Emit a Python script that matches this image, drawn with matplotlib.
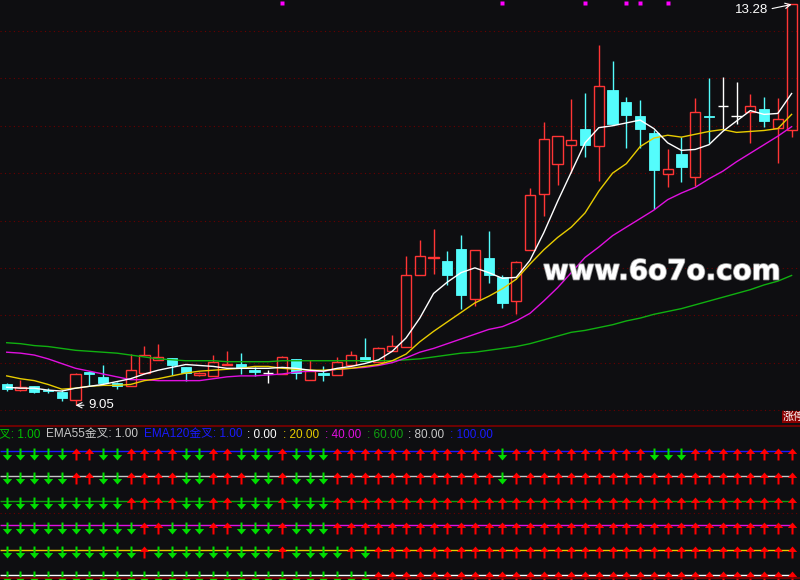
import matplotlib
matplotlib.use("Agg")
import matplotlib.pyplot as plt
from matplotlib.patches import Rectangle
from matplotlib.path import Path
from matplotlib.lines import Line2D
import matplotlib.patheffects as pe

# ---------------- data ----------------
opens = [9.27, 9.21, 9.25, 9.21, 9.19, 9.11, 9.40, 9.35, 9.29, 9.25,
         9.39, 9.53, 9.55, 9.45, 9.37, 9.36, 9.47, 9.49, 9.42, 9.39,
         9.38, 9.54, 9.32, 9.39, 9.37, 9.48, 9.56, 9.51, 9.62, 9.66,
         10.42, 10.60, 10.57, 10.70, 10.17, 10.60, 10.40, 10.15, 10.69, 11.28,
         11.60, 11.80, 11.97, 11.79, 12.38, 12.25, 12.10, 11.92, 11.49, 11.70,
         11.46, 12.10, 12.21, 12.10, 12.15, 12.18, 11.98, 11.96]
highs = [9.28, 9.32, 9.25, 9.23, 9.21, 9.39, 9.41, 9.47, 9.30, 9.59,
         9.68, 9.70, 9.55, 9.45, 9.40, 9.58, 9.62, 9.60, 9.45, 9.42,
         9.57, 9.54, 9.53, 9.46, 9.56, 9.62, 9.76, 9.66, 9.79, 10.63,
         10.79, 10.91, 10.68, 10.85, 10.69, 10.89, 10.42, 10.57, 11.34, 12.04,
         11.89, 12.28, 12.35, 12.85, 12.68, 12.30, 12.27, 11.96, 11.75, 11.88,
         12.29, 12.50, 12.51, 12.46, 12.34, 12.30, 12.29, 13.28]
lows = [9.20, 9.20, 9.18, 9.18, 9.10, 9.05, 9.25, 9.27, 9.22, 9.25,
        9.38, 9.53, 9.37, 9.31, 9.36, 9.36, 9.47, 9.38, 9.36, 9.29,
        9.38, 9.33, 9.32, 9.31, 9.37, 9.48, 9.52, 9.51, 9.62, 9.66,
        10.42, 10.44, 10.32, 10.07, 10.10, 10.34, 10.08, 10.01, 10.69, 11.05,
        11.37, 11.50, 11.67, 11.42, 12.02, 11.76, 11.76, 11.12, 11.35, 11.41,
        11.36, 11.82, 11.96, 12.02, 11.82, 11.99, 11.61, 11.88]
closes = [9.22, 9.24, 9.19, 9.20, 9.13, 9.38, 9.38, 9.28, 9.25, 9.42,
          9.58, 9.56, 9.47, 9.39, 9.39, 9.51, 9.49, 9.44, 9.40, 9.39,
          9.56, 9.39, 9.41, 9.37, 9.51, 9.58, 9.52, 9.65, 9.68, 10.42,
          10.63, 10.62, 10.43, 10.21, 10.69, 10.43, 10.13, 10.56, 11.27, 11.86,
          11.89, 11.85, 11.80, 12.42, 12.02, 12.11, 11.97, 11.53, 11.54, 11.56,
          12.15, 12.09, 12.21, 12.10, 12.21, 12.05, 12.07, 13.28]

ma_white = [9.24, 9.23, 9.23, 9.21, 9.20, 9.23, 9.25, 9.27, 9.30, 9.33,
            9.38, 9.42, 9.45, 9.48, 9.47, 9.46, 9.44, 9.44, 9.44, 9.44,
            9.45, 9.44, 9.42, 9.41, 9.44, 9.46, 9.49, 9.53, 9.62, 9.76,
            9.97, 10.23, 10.35, 10.45, 10.50, 10.45, 10.39, 10.40, 10.58, 10.87,
            11.20, 11.51, 11.82, 11.98, 12.00, 12.03, 12.06, 11.97, 11.82, 11.74,
            11.75, 11.80, 11.94, 12.05, 12.16, 12.12, 12.13, 12.34]
ma_yellow = [9.36, 9.33, 9.31, 9.27, 9.22, 9.23, 9.25, 9.26, 9.26, 9.27,
             9.31, 9.33, 9.36, 9.39, 9.41, 9.42, 9.43, 9.44, 9.46, 9.46,
             9.44, 9.43, 9.42, 9.42, 9.43, 9.44, 9.46, 9.48, 9.52, 9.59,
             9.72, 9.83, 9.93, 10.03, 10.13, 10.20, 10.28, 10.38, 10.54, 10.69,
             10.82, 10.93, 11.08, 11.31, 11.50, 11.60, 11.78, 11.87, 11.90, 11.88,
             11.91, 11.94, 11.96, 11.93, 11.94, 11.95, 11.97, 12.12]
ma_magenta = [9.61, 9.60, 9.58, 9.54, 9.49, 9.44, 9.41, 9.38, 9.35, 9.32,
              9.32, 9.31, 9.31, 9.31, 9.31, 9.33, 9.35, 9.36, 9.36, 9.37,
              9.38, 9.40, 9.41, 9.41, 9.43, 9.44, 9.45, 9.47, 9.50, 9.55,
              9.61, 9.65, 9.70, 9.75, 9.80, 9.85, 9.88, 9.94, 10.02, 10.15,
              10.29, 10.45, 10.61, 10.72, 10.84, 10.93, 11.02, 11.11, 11.22, 11.29,
              11.35, 11.44, 11.52, 11.62, 11.71, 11.80, 11.89, 11.99]
ma_green = [9.71, 9.70, 9.68, 9.67, 9.65, 9.63, 9.62, 9.61, 9.60, 9.58,
            9.56, 9.54, 9.53, 9.52, 9.52, 9.52, 9.51, 9.51, 9.51, 9.51,
            9.52, 9.52, 9.52, 9.52, 9.52, 9.52, 9.52, 9.52, 9.52, 9.53,
            9.54, 9.56, 9.58, 9.60, 9.61, 9.63, 9.65, 9.67, 9.70, 9.74,
            9.78, 9.82, 9.84, 9.87, 9.90, 9.94, 9.97, 10.01, 10.04, 10.07,
            10.11, 10.15, 10.19, 10.23, 10.27, 10.32, 10.36, 10.42]

signal_marks = [20, 36, 42, 45, 46, 48]
grid_levels = [9.0, 9.5, 10.0, 10.5, 11.0, 11.5, 12.0, 12.5, 13.0]

# lower panel: 1 = red up arrow, 0 = green down arrow
row_levels = [100, 80, 60, 40, 20, 0]
row_colors = ["#1a1aff", "#c8c8c8", "#10a010", "#e010e0", "#e8cc00", "#ffffff"]
rows = [
    [0,0,0,0,0,1,1,0,0,1,1,1,1,0,0,1,1,0,0,0,1,0,0,0,1,1,1,1,1,
     1,1,1,1,1,1,1,0,1,1,1,1,1,1,1,1,1,1,0,0,0,1,1,1,1,1,1,1,1],
    [0,0,0,0,0,1,1,0,0,1,1,1,1,0,0,1,1,1,0,0,1,0,0,0,1,1,1,1,1,
     1,1,1,1,1,1,1,0,1,1,1,1,1,1,1,1,1,1,1,1,1,1,1,1,1,1,1,1,1],
    [0,0,0,0,0,0,0,0,0,1,1,1,1,0,0,1,1,0,0,0,1,0,0,0,1,1,1,1,1,
     1,1,1,1,1,1,1,1,1,1,1,1,1,1,1,1,1,1,1,1,1,1,1,1,1,1,1,1,1],
    [0,0,0,0,0,0,0,0,0,0,1,1,0,0,0,1,1,0,0,0,1,0,0,0,1,1,1,1,1,
     1,1,1,1,1,1,1,1,1,1,1,1,1,1,1,1,1,1,1,1,1,1,1,1,1,1,1,1,1],
    [0,0,0,0,0,0,0,0,0,0,1,0,0,0,0,0,0,0,0,0,1,0,0,0,0,1,0,1,1,
     1,1,1,1,1,1,1,1,1,1,1,1,1,1,1,1,1,1,1,1,1,1,1,1,1,1,1,1,1],
    [0,0,0,0,0,0,0,0,0,0,0,0,0,0,0,0,0,0,0,0,0,0,0,0,0,0,0,1,1,
     1,1,1,1,1,1,1,1,1,1,1,1,1,1,1,1,1,1,1,1,1,1,1,1,1,1,1,1,1],
]

legend_parts = [
    ("叉: 1.00", "#00c000"),
    ("EMA55金叉: 1.00", "#c8c8c8"),
    ("EMA120金叉: 1.00", "#1a1aff"),
    (": 0.00", "#ffffff"),
    (": 20.00", "#e8cc00"),
    (": 40.00", "#e010e0"),
    (": 60.00", "#10a010"),
    (": 80.00", "#c8c8c8"),
    (": 100.00", "#1a1aff"),
]
legend_x = [-1, 46.5, 144, 247, 283, 325, 367, 408, 450]

# ---------------- style ----------------
BG = "#0e0e11"
RED = "#ff3535"
CYAN = "#54fcfc"
GRID = "#6a0000"
W, H = 800, 580

fig = plt.figure(figsize=(8, 5.8), dpi=100, facecolor=BG)
ax = fig.add_axes([0, 155 / H, 1, 425 / H])
ax2 = fig.add_axes([0, 0, 1, 155 / H])
for a in (ax, ax2):
    a.set_facecolor(BG)
    a.set_axis_off()

n = len(closes)
xs = list(range(n))
ax.set_xlim(-0.487, 57.61)
ax.set_ylim(8.8417, 13.3272)
ax2.set_xlim(-0.487, 57.61)
ax2.set_ylim(-4.3, 121.3)

for g in grid_levels:
    ax.axhline(g, color=GRID, lw=0.8, ls=(0, (1, 3)), zorder=1)

bw = 0.74
for i in xs:
    o, h, l, c = opens[i], highs[i], lows[i], closes[i]
    if c > o:
        ax.vlines(i, c, h, color=RED, lw=1.0, zorder=2)
        ax.vlines(i, l, o, color=RED, lw=1.0, zorder=2)
        ax.add_patch(Rectangle((i - bw / 2, o), bw, c - o, fill=False,
                               edgecolor=RED, lw=1.0, zorder=2))
    elif c < o:
        ax.vlines(i, l, h, color=CYAN, lw=1.0, zorder=2)
        ax.add_patch(Rectangle((i - bw / 2, c), bw, o - c, facecolor=CYAN,
                               edgecolor=CYAN, lw=0.6, zorder=2))
    else:
        ax.vlines(i, l, h, color="white", lw=1.0, zorder=2)
        ax.hlines(c, i - bw / 2, i + bw / 2, color="white", lw=1.0, zorder=2)

ax.plot(xs, ma_green, color="#10b010", lw=1.0, zorder=3)
ax.plot(xs, ma_magenta, color="#e010e0", lw=1.0, zorder=3)
ax.plot(xs, ma_yellow, color="#e8cc00", lw=1.0, zorder=3)
ax.plot(xs, ma_white, color="#ffffff", lw=1.0, zorder=3)

# top signal squares
ax.plot(signal_marks, [0.994] * len(signal_marks), ls="none", marker="s",
        ms=2.3, mfc="#ff00ff", mec="none",
        transform=ax.get_xaxis_transform(), clip_on=False, zorder=4)

lab_font = ["Liberation Sans", "Noto Sans CJK SC", "DejaVu Sans"]
imax = highs.index(max(highs))
imin = lows.index(min(lows))
ax.annotate(f"{highs[imax]:.2f}", xy=(imax, highs[imax]), xytext=(-17, -4),
            textcoords="offset points", ha="right", va="center", color="white",
            fontsize=9.5, family=lab_font,
            arrowprops=dict(arrowstyle="->", color="white", lw=0.8,
                            relpos=(1.0, 0.55), shrinkA=1, shrinkB=0))
ax.annotate(f"{lows[imin]:.2f}", xy=(imin, lows[imin]), xytext=(9, 0),
            textcoords="offset points", ha="left", va="center", color="white",
            fontsize=9.5, family=lab_font,
            arrowprops=dict(arrowstyle="->", color="white", lw=0.8,
                            relpos=(0.0, 0.5), shrinkA=1, shrinkB=0))

# watermark
fig.text(543 / W, 1 - 279.5 / H, "www.6o7o.com", color="white", fontsize=20,
         fontweight="bold", family="DejaVu Sans", ha="left", va="baseline",
         path_effects=[pe.withStroke(linewidth=1.2, foreground="#9a9a9a")])

# 涨停 tag (clipped by the right edge, as in the source)
fig.text(783 / W, 1 - 417 / H, "涨停", color="white", fontsize=8,
         family=["Noto Sans CJK SC"], ha="left", va="center",
         bbox=dict(boxstyle="square,pad=0.1", fc="#8b0000", ec="none"))

# separators
fig.add_artist(Line2D([0, 1], [1 - 425.5 / H] * 2, color="#800000", lw=1.2))
fig.add_artist(Line2D([0, 1], [1 - 577.5 / H] * 2, color="#800000", lw=1.2))

# lower panel
ax2.axhline(50, color=GRID, lw=0.8, ls=(0, (1, 3)), zorder=1)
for lev, col in zip(row_levels, row_colors):
    ax2.hlines(lev, -0.5, n - 1, color=col, lw=1.0, zorder=2)

up_path = Path([(0, 1), (0.78, 0.09), (0.17, 0.09), (0.17, -1), (-0.17, -1),
                (-0.17, 0.09), (-0.78, 0.09), (0, 1)],
               [Path.MOVETO] + [Path.LINETO] * 6 + [Path.CLOSEPOLY])
dn_path = Path([(x, -y) for x, y in up_path.vertices], up_path.codes)
arrow_off = 2.0
for lev, flags in zip(row_levels, rows):
    ux = [i for i, f in enumerate(flags) if f == 1]
    dx = [i for i, f in enumerate(flags) if f == 0]
    ax2.plot(ux, [lev - arrow_off] * len(ux), ls="none", marker=up_path,
             ms=8.6, mfc="#ff0000", mec="none", zorder=3, clip_on=False)
    ax2.plot(dx, [lev - arrow_off] * len(dx), ls="none", marker=dn_path,
             ms=8.6, mfc="#00dd00", mec="none", zorder=3, clip_on=False)

for (txt, col), x in zip(legend_parts, legend_x):
    fig.text(x / W, 1 - 437.5 / H, txt, color=col, fontsize=8.5,
             family=lab_font, ha="left", va="baseline")

fig.savefig("out.png", dpi=100, facecolor=BG)
